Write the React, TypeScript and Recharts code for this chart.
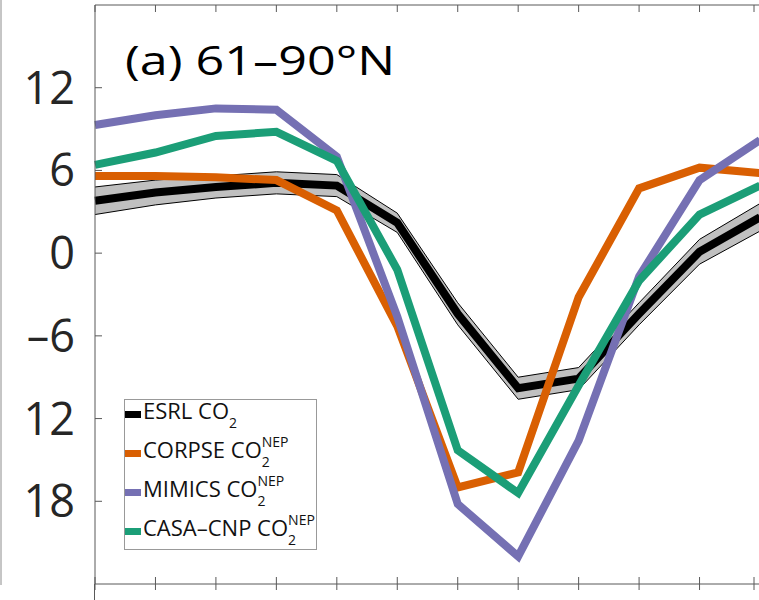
import React from "react";
import { ComposedChart, Line, Area, XAxis, YAxis } from "recharts";

// monthly values (Jan..Dec)
const months = [1, 2, 3, 4, 5, 6, 7, 8, 9, 10, 11, 12];
const esrl = [3.8, 4.4, 4.8, 5.1, 4.9, 2.2, -4.4, -9.8, -9.1, -4.4, 0.1, 2.6];
const esrlLow = [2.8, 3.5, 4.0, 4.3, 4.1, 1.5, -5.2, -10.6, -9.9, -5.2, -0.8, 1.6];
const esrlHigh = [4.8, 5.3, 5.6, 5.9, 5.7, 2.9, -3.6, -9.0, -8.3, -3.6, 1.0, 3.6];
const corpse = [5.6, 5.6, 5.5, 5.3, 3.1, -5.3, -17.0, -15.9, -3.2, 4.7, 6.2, 5.8];
const mimics = [9.3, 10.0, 10.5, 10.4, 7.0, -4.6, -18.2, -22.0, -13.6, -1.7, 5.3, 8.2];
const casa = [6.4, 7.3, 8.5, 8.8, 6.7, -1.2, -14.3, -17.4, -9.6, -2.0, 2.8, 4.9];

const yTicks = [12, 6, 0, -6, -12, -18];
const yTickLabels = ["12", "6", "0", "–6", "12", "18"];

const title = "(a) 61–90°N";

const series = [
  { key: "esrl", name: "ESRL CO", sup: "", color: "#000000" },
  { key: "corpse", name: "CORPSE CO", sup: "NEP", color: "#d95f02" },
  { key: "mimics", name: "MIMICS CO", sup: "NEP", color: "#7570b3" },
  { key: "casa", name: "CASA–CNP CO", sup: "NEP", color: "#1b9e77" },
];

const data = months.map((m, i) => ({
  month: m,
  esrl: esrl[i],
  esrlLow: esrlLow[i],
  esrlHigh: esrlHigh[i],
  band: [esrlLow[i], esrlHigh[i]],
  corpse: corpse[i],
  mimics: mimics[i],
  casa: casa[i],
}));

const AXIS = "#595959";
const FONT = "'Open Sans', sans-serif";

const BottomTick = (props: any) => (
  <line x1={props.x} x2={props.x} y1={props.y - 7} y2={props.y + 6} stroke={AXIS} />
);
const TopTick = (props: any) => (
  <line x1={props.x} x2={props.x} y1={props.y} y2={props.y + 7} stroke={AXIS} />
);
const LeftTick = (props: any) => {
  const { x, y, payload } = props;
  const idx = yTicks.indexOf(payload.value);
  return (
    <g>
      <line x1={x} x2={x + 7} y1={y} y2={y} stroke={AXIS} />
      <text x={x - 20} y={y + 16} textAnchor="end" fontSize={45} fontFamily={FONT} fill="#262626">
        {idx >= 0 ? yTickLabels[idx] : ""}
      </text>
    </g>
  );
};
const RightTick = (props: any) => (
  <line x1={props.x - 7} x2={props.x} y1={props.y} y2={props.y} stroke={AXIS} />
);

function LegendBox() {
  const rowY = [419, 458, 497, 536];
  return (
    <svg width={759} height={600} style={{ position: "absolute", left: 0, top: 0, pointerEvents: "none" }}>
      <line x1={1} x2={1} y1={0} y2={585} stroke="#8c8c8c" />
      <line x1={94.5} x2={94.5} y1={584} y2={600} stroke={AXIS} />
      <text x={125} y={75} fontSize={40} fontFamily={FONT} fill="#000" textLength={270} lengthAdjust="spacingAndGlyphs">
        {title}
      </text>
      <rect x={124.5} y={399.5} width={192} height={150} fill="#fff" stroke="#999" />
      {series.map((s, i) => (
        <g key={s.key}>
          <rect x={125} y={rowY[i] - 8} width={16} height={7} fill={s.color} />
          <text x={143} y={rowY[i]} fontSize={22} fontFamily={FONT} fill="#111">
            {s.name}
            <tspan dy={9} fontSize={14}>2</tspan>
            {s.sup ? (
              <tspan dx={-8} dy={-20} fontSize={14}>{s.sup}</tspan>
            ) : null}
          </text>
        </g>
      ))}
    </svg>
  );
}

export default function App() {
  return (
    <div style={{ position: "relative", width: 759, height: 600, overflow: "hidden", background: "#fff" }}>
      <style>{"body{margin:0}"}</style>
      <ComposedChart width={762} height={600} data={data} margin={{ top: 4, right: 1, bottom: 15, left: 94 }}>
        <XAxis xAxisId="bottom" dataKey="month" type="number" domain={[1, 12]} ticks={months}
          orientation="bottom" height={1} tickSize={0} tickMargin={0} tickLine={false}
          tick={BottomTick} axisLine={{ stroke: AXIS }} />
        <XAxis xAxisId="top" dataKey="month" type="number" domain={[1, 12]} ticks={months}
          orientation="top" height={1} tickSize={0} tickMargin={0} tickLine={false}
          tick={TopTick} axisLine={{ stroke: AXIS }} />
        <YAxis yAxisId="left" type="number" domain={[-24, 18]} ticks={yTicks} width={1}
          tickSize={0} tickMargin={0} tickLine={false} tick={LeftTick} axisLine={{ stroke: AXIS }} />
        <YAxis yAxisId="right" orientation="right" type="number" domain={[-24, 18]} ticks={yTicks} width={1}
          tickSize={0} tickMargin={0} tickLine={false} tick={RightTick} axisLine={{ stroke: AXIS }} />
        <Area xAxisId="bottom" yAxisId="left" dataKey="band" type="linear" fill="#c0c0c0" fillOpacity={1}
          stroke="none" isAnimationActive={false} activeDot={false} />
        <Line xAxisId="bottom" yAxisId="left" dataKey="esrlLow" type="linear" stroke="#000" strokeWidth={1}
          dot={false} activeDot={false} isAnimationActive={false} />
        <Line xAxisId="bottom" yAxisId="left" dataKey="esrlHigh" type="linear" stroke="#000" strokeWidth={1}
          dot={false} activeDot={false} isAnimationActive={false} />
        {series.map((s) => (
          <Line key={s.key} xAxisId="bottom" yAxisId="left" dataKey={s.key} type="linear" stroke={s.color}
            strokeWidth={8} dot={false} activeDot={false} isAnimationActive={false} />
        ))}
      </ComposedChart>
      <LegendBox />
    </div>
  );
}
